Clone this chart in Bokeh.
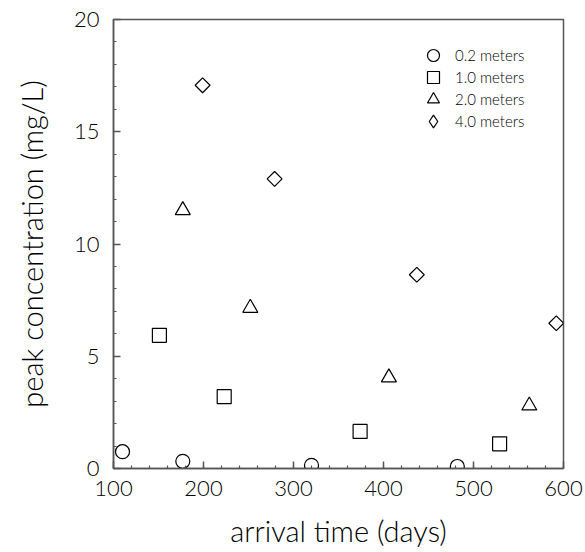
import math
from bokeh.plotting import figure
from bokeh.models import Range1d, Legend, LegendItem, FixedTicker
from bokeh.embed import file_html
from bokeh.resources import INLINE

# data
t_02 = [110, 177, 320, 482]
c_02 = [0.75, 0.32, 0.14, 0.09]
t_10 = [151, 223, 374, 529]
c_10 = [5.93, 3.2, 1.65, 1.1]
t_20 = [177, 252, 406, 562]
c_20 = [11.5, 7.15, 4.05, 2.8]
t_40 = [199, 279, 437, 592]
c_40 = [17.07, 12.9, 8.63, 6.47]
labels = ["0.2 meters", "1.0 meters", "2.0 meters", "4.0 meters"]
x_ticks = [100, 200, 300, 400, 500, 600]
y_ticks = [0, 5, 10, 15, 20]

FONT = "Lato Light, Liberation Sans"
AX = "#555555"
TXT = "black"

p = figure(width=585, height=552, output_backend="svg", toolbar_location=None,
           x_range=Range1d(100, 600), y_range=Range1d(0, 20),
           min_border_left=113, min_border_right=22, min_border_top=19, min_border_bottom=84)
p.xgrid.visible = False
p.ygrid.visible = False
p.outline_line_color = AX
p.outline_line_width = 1.5
p.background_fill_color = "white"
p.border_fill_color = "white"

r1 = p.scatter(t_02, c_02, marker="circle", size=14, fill_color=None, line_color="black", line_width=1.2)
r2 = p.scatter(t_10, c_10, marker="square", size=14, fill_color=None, line_color="black", line_width=1.2)
r3 = p.scatter(t_20, c_20, marker="triangle", size=15, fill_color=None, line_color="black", line_width=1.2)
r4 = p.scatter(t_40, c_40, marker="square", angle=math.pi / 4, size=10.5, fill_color=None, line_color="black", line_width=1.2)
# legend key for the diamond series (Bokeh legends ignore marker angle); not drawn in the plot
r4_key = p.scatter([float("nan")], [float("nan")], marker="diamond", size=12, fill_color=None,
                   line_color="black", line_width=1.2)

for ax in (p.xaxis[0], p.yaxis[0]):
    ax.axis_line_color = AX
    ax.axis_line_width = 1.5
    ax.major_tick_line_color = AX
    ax.minor_tick_line_color = AX
    ax.major_tick_line_width = 1.5
    ax.minor_tick_line_width = 1.2
    ax.major_tick_in = 7
    ax.major_tick_out = 0
    ax.minor_tick_in = 3
    ax.minor_tick_out = 0
    ax.major_label_text_font = FONT
    ax.major_label_text_font_size = "22px"
    ax.major_label_text_color = TXT
    ax.axis_label_text_font = FONT
    ax.axis_label_text_font_size = "29px"
    ax.axis_label_text_font_style = "normal"
    ax.axis_label_text_color = TXT

p.xaxis[0].ticker = FixedTicker(ticks=x_ticks, minor_ticks=list(range(100, 601, 20)))
p.yaxis[0].ticker = FixedTicker(ticks=y_ticks, minor_ticks=list(range(0, 21, 1)))
p.xaxis[0].axis_label = "arrival time (days)"
p.yaxis[0].axis_label = "peak concentration (mg/L)"
p.xaxis[0].major_label_standoff = 12
p.yaxis[0].major_label_standoff = 14
p.xaxis[0].axis_label_standoff = 14
p.yaxis[0].axis_label_standoff = 22

key_renderers = [r1, r2, r3, r4_key]
legend_y = [398, 376, 354, 332]
key_size = [30, 30, 30, 32]
for lab, rend, ly, ks in zip(labels, key_renderers, legend_y, key_size):
    off = (ks - 30) // 2
    lg = Legend(items=[LegendItem(label=lab, renderers=[rend])],
                location=(305 - off, ly - off), orientation="vertical",
                glyph_width=ks, glyph_height=ks, spacing=0, padding=0, margin=0,
                label_standoff=7 - off, label_text_font=FONT, label_text_font_size="15px",
                label_text_color=TXT, border_line_color=None, background_fill_alpha=0)
    p.add_layout(lg)

open("out.html", "w").write(file_html(p, INLINE))
